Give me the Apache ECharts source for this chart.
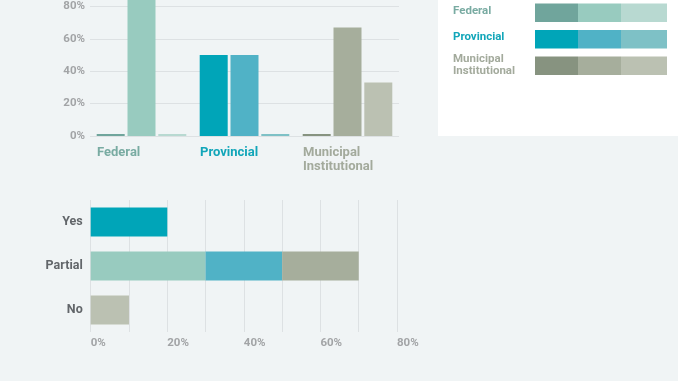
<!DOCTYPE html>
<html><head><meta charset="utf-8">
<script src="https://cdn.jsdelivr.net/npm/echarts@6/dist/echarts.min.js"></script>
<style>html,body{margin:0;padding:0;background:#f0f4f5}#c{width:678px;height:381px}</style>
</head><body><div id="c"></div>
<script>
// ---- data ----
var jurisdictions = ['Federal', 'Provincial', 'Municipal\nInstitutional'];
var answers = ['Yes', 'Partial', 'No'];
// top chart: share of each answer within each jurisdiction (%)
var yesByJur = [0, 50, 0];
var partialByJur = [100, 50, 67];
var noByJur = [0, 0, 33];
// bottom chart: overall share of each answer, split by jurisdiction (%)
var federalByAns = [0, 30, 0];
var provincialByAns = [20, 20, 0];
var municipalByAns = [0, 20, 10];
var topTickStep = 20;     // top axis labels: 0% .. 80%
var bottomTickStep = 10;  // bottom grid lines every 10%, labels every 20%

// palette: [dark (Yes), mid (Partial), light (No)] per jurisdiction
var palette = [
  ['#70a59c', '#98cbbf', '#b8d9d1'],
  ['#00a5b8', '#50b2c6', '#7ec1c6'],
  ['#879380', '#a6ae9c', '#bbc1b2']
];
var labelColors = ['#79aba2', '#12a6b9', '#a3aa9c'];

var font = 'Roboto, "Noto Sans", sans-serif';
var chart = echarts.init(document.getElementById('c'), null, {renderer: 'canvas'});

function topSeries(name, data, shade) {
  return {
    name: name, type: 'bar', xAxisIndex: 0, yAxisIndex: 0,
    barWidth: 28, barGap: '10%', barMinHeight: 2,
    data: data.map(function (v, i) { return {value: v, itemStyle: {color: palette[i][shade]}}; })
  };
}
function bottomSeries(name, data, jur) {
  return {
    name: name, type: 'bar', stack: 'all', xAxisIndex: 2, yAxisIndex: 1,
    barWidth: 29,
    data: data.map(function (v, i) { return {value: v, itemStyle: {color: palette[jur][i]}}; })
  };
}

var legendGraphics = [{
  type: 'rect', shape: {x: 438, y: -2, width: 242, height: 138}, style: {fill: '#ffffff'}, z: 0
}];
var legendRowsY = [3.5, 30, 56.5];
var legendTextY = [11, 37, 65];
jurisdictions.forEach(function (j, r) {
  legendGraphics.push({
    type: 'text', x: 453, y: legendTextY[r],
    style: {text: j, fill: labelColors[r], font: 'bold 11.5px ' + font, lineHeight: 12, verticalAlign: 'middle'}
  });
  var xs = [535, 578, 621, 667];
  for (var s = 0; s < 3; s++) {
    legendGraphics.push({
      type: 'rect', shape: {x: xs[s], y: legendRowsY[r], width: xs[s + 1] - xs[s], height: 18.5},
      style: {fill: palette[r][s]}
    });
  }
});

var option = {
  animation: false,
  backgroundColor: '#f0f4f5',
  textStyle: {fontFamily: font},
  grid: [
    {left: 90, right: 279, top: 0, bottom: 245},
    {left: 90.7, right: 281, top: 200, height: 132}
  ],
  graphic: legendGraphics,
  xAxis: [
    {gridIndex: 0, type: 'category', data: jurisdictions,
     axisLine: {show: false}, axisTick: {show: false}, axisLabel: {show: false}, splitLine: {show: false}},
    {gridIndex: 0, type: 'category', data: jurisdictions.concat(['']), boundaryGap: false, position: 'bottom',
     axisLine: {show: false}, axisTick: {show: false}, splitLine: {show: false},
     axisLabel: {interval: 0, align: 'left', padding: [0, 0, 0, 7], margin: 10,
       fontSize: 13, fontWeight: 'bold', lineHeight: 14, fontFamily: font,
       color: function (v, i) { return labelColors[i] || '#999'; }}},
    {gridIndex: 1, type: 'value', min: 0, max: 80, interval: bottomTickStep,
     axisLine: {show: false}, axisTick: {show: false},
     splitLine: {show: true, lineStyle: {color: '#dde1e3', width: 1}},
     axisLabel: {align: 'left', margin: 5, fontSize: 11.5, fontWeight: 'bold', color: '#a2a4a6', fontFamily: font,
       formatter: function (v) { return v % 20 === 0 ? v + '%' : ''; }}}
  ],
  yAxis: [
    {gridIndex: 0, type: 'value', min: 0, max: 84, interval: topTickStep,
     axisLine: {show: false}, axisTick: {show: false},
     splitLine: {showMaxLine: false, lineStyle: {color: '#dde1e3', width: 1}},
     axisLabel: {margin: 5, fontSize: 11.5, fontWeight: 'bold', color: '#a2a4a6', fontFamily: font,
       showMaxLabel: false,
       formatter: function (v) { return v % 20 === 0 ? v + '%' : ''; }}},
    {gridIndex: 1, type: 'category', data: answers, inverse: true,
     axisLine: {show: false}, axisTick: {show: false},
     axisLabel: {margin: 8, fontSize: 12.5, fontWeight: 'bold', color: '#62666a', fontFamily: font}}
  ],
  series: [
    topSeries('Yes', yesByJur, 0),
    topSeries('Partial', partialByJur, 1),
    topSeries('No', noByJur, 2),
    bottomSeries('Federal', federalByAns, 0),
    bottomSeries('Provincial', provincialByAns, 1),
    bottomSeries('Municipal Institutional', municipalByAns, 2)
  ]
};
chart.setOption(option);
</script></body></html>
